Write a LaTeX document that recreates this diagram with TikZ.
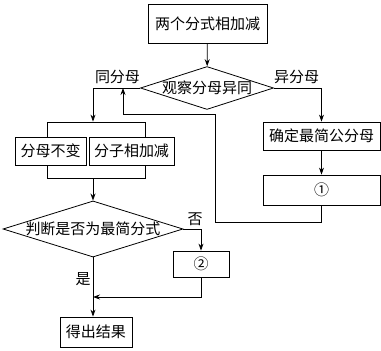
\documentclass[tikz,border=0pt]{standalone}
\usepackage{fontspec}
\newfontfamily\cjk{Noto Sans CJK SC}
\usetikzlibrary{shapes.geometric,arrows.meta}

\begin{document}
\begin{tikzpicture}[x=1pt, y=-1pt, line width=0.8pt,
    box/.style={draw, fill=white, inner sep=0pt, font=\cjk\fontsize{15}{17}\selectfont},
    test/.style={draw, fill=white, shape=diamond, inner sep=0pt, font=\cjk\fontsize{15}{17}\selectfont},
    lbl/.style={inner sep=0pt, font=\cjk\fontsize{15}{17}\selectfont},
    flow/.style={-{Stealth[length=7pt,width=5pt]}}]
  \useasboundingbox (0,0) rectangle (381,351);

  % nodes
  \node[box, minimum width=119pt, minimum height=39pt] (start) at (207.5,23.5) {两个分式相加减};
  \node[test, minimum width=130pt, minimum height=42pt, aspect=3.1] (observe) at (207,88) {观察分母异同};
  \node[box, minimum width=117pt, minimum height=28pt] (lcm) at (321.5,136) {确定最简公分母};
  \node[box, minimum width=117pt, minimum height=30pt] (one) at (321.5,190) {①};
  \node[draw, inner sep=0pt, minimum width=98pt, minimum height=56pt] (frame) at (96,150) {};
  \node[box, minimum width=71pt, minimum height=28pt] (keep) at (50.5,151) {分母不变};
  \node[box, minimum width=85pt, minimum height=28pt] (add) at (131.5,151) {分子相加减};
  \node[test, minimum width=180pt, minimum height=56pt, aspect=3.2] (judge) at (93,229) {判断是否为最简分式};
  \node[box, minimum width=56pt, minimum height=26pt] (two) at (201,264) {②};
  \node[box, minimum width=72pt, minimum height=30pt] (result) at (96,332) {得出结果};

  \coordinate (loopA) at (215,222);
  \coordinate (loopB) at (123,114);
  \coordinate (merge) at (93,297);

  % connectors
  \draw[flow] (start) -- (observe);
  \draw[flow] (observe.west) -| (judge.north |- frame.north);
  \draw[flow] (observe.east) -| (lcm.north);
  \draw[flow] (lcm) -- (one);
  \draw[flow] (one.south) |- (loopA) |- (loopB) -- (loopB |- observe.west);
  \draw[flow] (judge.north |- frame.south) -- (judge.north);
  \draw[flow] (judge.east) -| (two.north);
  \draw[flow] (two.south) |- (merge);
  \draw[flow] (judge.south) -- (judge.south |- result.north);

  % labels
  \node[lbl] (same) at (117.5,77) {同分母};
  \node[lbl] (diff) at (296.5,77) {异分母};
  \node[lbl] (no)   at (195,219) {否};
  \node[lbl] (yes)  at (83,279)  {是};
\end{tikzpicture}
\end{document}
